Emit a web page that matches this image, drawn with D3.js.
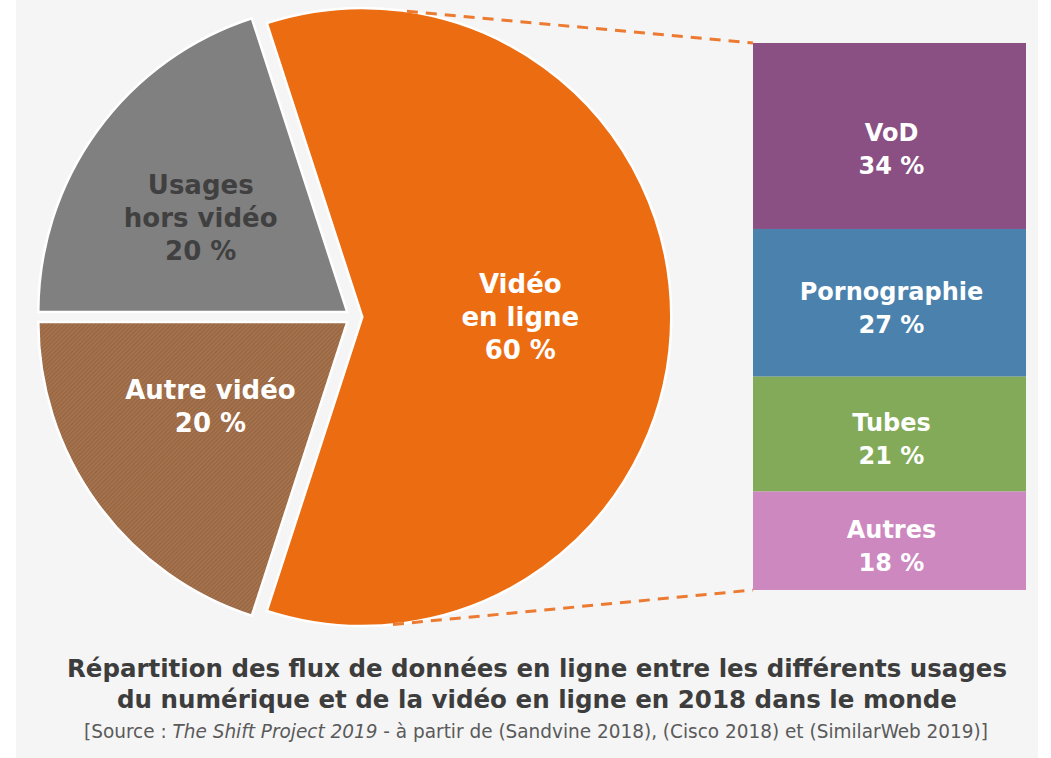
<!DOCTYPE html>
<html>
<head>
  <meta charset="utf-8">
  <title>Répartition des flux de données en ligne</title>
  <script src="https://d3js.org/d3.v7.min.js"></script>
  <style>
    body { margin: 0; background: #ffffff; }
    .slice-label, .bar-label { font-family: "DejaVu Sans", Verdana, sans-serif; font-weight: bold; text-anchor: middle; }
    .title { font-family: "DejaVu Sans Condensed", "Liberation Sans Narrow", "Open Sans", sans-serif; font-weight: bold; fill: #3d3d3d; text-anchor: middle; }
    .source { font-family: "DejaVu Sans Condensed", "Liberation Sans Narrow", "Open Sans", sans-serif; fill: #5a5a5a; text-anchor: middle; }
  </style>
</head>
<body>
  <div id="chart"></div>
  <script>
    // pie: share of online data flows
    const pieCategories = ["Usages hors vidéo", "Vidéo en ligne", "Autre vidéo"];
    const pieLines = [["Usages", "hors vidéo"], ["Vidéo", "en ligne"], ["Autre vidéo"]];
    const pieValues = [20, 60, 20];
    const pieColors = ["#808080", "#ec6c12", "url(#hatch)"];
    const pieTextColors = ["#404040", "#ffffff", "#ffffff"];

    // stacked column: breakdown of online video
    const barCategories = ["VoD", "Pornographie", "Tubes", "Autres"];
    const barValues = [34, 27, 21, 18];
    const barColors = ["#8a5083", "#4a82ad", "#82aa58", "#cc88bf"];

    const titleLines = [
      "Répartition des flux de données en ligne entre les différents usages",
      "du numérique et de la vidéo en ligne en 2018 dans le monde"
    ];

    const width = 1051, height = 758;

    const svg = d3.select("#chart").append("svg")
      .attr("width", width)
      .attr("height", height);

    // hatched brown fill
    const defs = svg.append("defs");
    const pat = defs.append("pattern")
      .attr("id", "hatch")
      .attr("patternUnits", "userSpaceOnUse")
      .attr("width", 3).attr("height", 3)
      .attr("patternTransform", "rotate(45)");
    pat.append("rect").attr("width", 3).attr("height", 3).attr("fill", "#a5724e");
    pat.append("rect").attr("width", 1).attr("height", 3).attr("fill", "#94633f");

    svg.append("rect")
      .attr("x", 16).attr("y", 0)
      .attr("width", 1022).attr("height", height)
      .attr("fill", "#f5f5f5");

    // ---- pie ----
    const cx = 354, cy = 317, radius = 309, explode = 8.3;
    const pie = d3.pie().sort(null)
      .startAngle(-Math.PI / 2).endAngle(3 * Math.PI / 2)
      .value(d => d);
    const arcs = pie(pieValues);
    const arc = d3.arc().innerRadius(0).outerRadius(radius);
    // label placement per slice (distance from slice tip, angle nudge in degrees)
    const labelR = [174, 158, 161];
    const labelNudge = [-3.4, 0, 4.2];

    const g = svg.append("g").attr("transform", `translate(${cx},${cy})`);
    const off = a => {
      const m = (a.startAngle + a.endAngle) / 2;
      return [Math.sin(m) * explode, -Math.cos(m) * explode];
    };

    const orange = arcs[1];
    const oo = off(orange);

    // dashed connectors from the video slice to the column
    const barX = 753, barW = 273;
    const yBar = d3.scaleLinear().domain([0, d3.sum(barValues)]).range([43, 590]);
    const conn = [[8.3 * Math.PI / 180, yBar(0)], [174.3 * Math.PI / 180, yBar(d3.sum(barValues))]];
    svg.selectAll(".conn").data(conn).enter().append("line")
      .attr("x1", d => cx + oo[0] + Math.sin(d[0]) * radius)
      .attr("y1", d => cy + oo[1] - Math.cos(d[0]) * radius)
      .attr("x2", barX)
      .attr("y2", d => d[1])
      .attr("stroke", "#ec7a30")
      .attr("stroke-width", 3)
      .attr("stroke-dasharray", "11,8");

    g.selectAll("path").data(arcs).enter().append("path")
      .attr("transform", d => `translate(${off(d)})`)
      .attr("d", arc)
      .attr("fill", (d, i) => pieColors[i])
      .attr("stroke", "#ffffff")
      .attr("stroke-width", 2.5);

    arcs.forEach((a, i) => {
      const m = (a.startAngle + a.endAngle) / 2 + labelNudge[i] * Math.PI / 180;
      const o = off(a);
      const lx = o[0] + Math.sin(m) * labelR[i];
      const ly = o[1] - Math.cos(m) * labelR[i];
      const lines = pieLines[i].concat([pieValues[i] + " %"]);
      const t = g.append("text")
        .attr("class", "slice-label")
        .attr("fill", pieTextColors[i])
        .style("font-size", "26px");
      lines.forEach((s, k) => {
        t.append("tspan")
          .attr("x", lx)
          .attr("y", ly + (k - (lines.length - 1) / 2) * 33 + 9)
          .text(s);
      });
    });

    // ---- stacked column ----
    let acc = 0;
    const segs = barValues.map((v, i) => {
      const s = { name: barCategories[i], value: v, y0: acc, y1: acc + v, color: barColors[i] };
      acc += v;
      return s;
    });

    svg.selectAll(".seg").data(segs).enter().append("rect")
      .attr("x", barX)
      .attr("width", barW)
      .attr("y", d => yBar(d.y0))
      .attr("height", d => yBar(d.y1) - yBar(d.y0))
      .attr("fill", d => d.color);

    const bl = svg.selectAll(".bar-label").data(segs).enter().append("text")
      .attr("class", "bar-label")
      .attr("fill", "#ffffff")
      .style("font-size", "24px");
    bl.append("tspan")
      .attr("x", barX + barW / 2 + 2)
      .attr("y", (d, i) => (yBar(d.y0) + yBar(d.y1)) / 2 - 16 + 13 + (i === 0 ? 8 : 0))
      .text(d => d.name);
    bl.append("tspan")
      .attr("x", barX + barW / 2 + 2)
      .attr("y", (d, i) => (yBar(d.y0) + yBar(d.y1)) / 2 + 17 + 13 + (i === 0 ? 8 : 0))
      .text(d => d.value + " %");

    // ---- title and source ----
    const titleX = [537, 537], titleY = [677, 708], titleLen = [940, 840];
    titleLines.forEach((s, i) => {
      svg.append("text")
        .attr("class", "title")
        .attr("x", titleX[i]).attr("y", titleY[i])
        .attr("textLength", titleLen[i])
        .attr("lengthAdjust", "spacingAndGlyphs")
        .style("font-size", "25px")
        .text(s);
    });

    const src = svg.append("text")
      .attr("class", "source")
      .attr("x", 536).attr("y", 738)
      .attr("textLength", 904)
      .attr("lengthAdjust", "spacingAndGlyphs")
      .style("font-size", "19px");
    src.append("tspan").text("[Source : ");
    src.append("tspan").style("font-style", "italic").text("The Shift Project 2019");
    src.append("tspan").text(" - à partir de (Sandvine 2018), (Cisco 2018) et (SimilarWeb 2019)]");
  </script>
</body>
</html>
